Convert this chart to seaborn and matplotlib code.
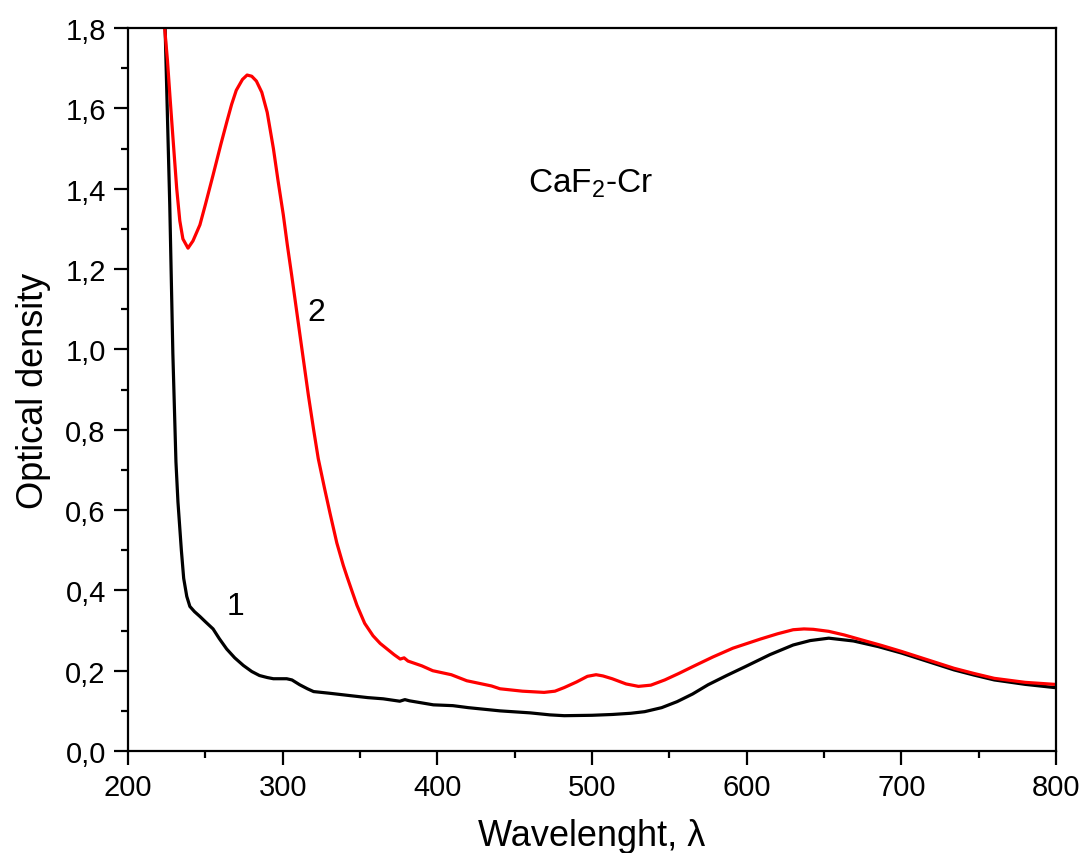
import numpy as np
import pandas as pd
import matplotlib
matplotlib.use("Agg")
import matplotlib.pyplot as plt
import seaborn as sns
from matplotlib.ticker import MultipleLocator, FuncFormatter

# curve 1 (black)
wl_1 = [222, 224, 227, 229, 231, 232.3, 234.5, 236, 238, 240, 243, 246.5, 250, 255, 259,
        263.8, 269, 274.6, 280, 285, 290, 294, 302.6, 306, 311, 316, 320, 330, 343.5, 355,
        365, 375.7, 379, 382, 397.4, 410, 420, 440.5, 460, 472.8, 482, 500, 513, 525, 534,
        545, 555, 565, 575, 587, 599, 615, 630, 641, 653, 669, 685, 700, 717, 734, 747,
        760, 780, 799, 800]
od_1 = [1.90, 1.80, 1.36, 0.99, 0.72, 0.62, 0.50, 0.43, 0.385, 0.36, 0.347, 0.335, 0.322, 0.304, 0.28,
        0.254, 0.232, 0.213, 0.198, 0.188, 0.183, 0.18, 0.18, 0.177, 0.165, 0.155, 0.148, 0.144, 0.138, 0.133,
        0.13, 0.124, 0.128, 0.125, 0.115, 0.113, 0.108, 0.1, 0.095, 0.09, 0.088, 0.089, 0.091, 0.094, 0.098,
        0.108, 0.123, 0.142, 0.165, 0.188, 0.21, 0.24, 0.264, 0.275, 0.281, 0.274, 0.26, 0.244, 0.223, 0.202, 0.189,
        0.177, 0.166, 0.158, 0.158]

# curve 2 (red)
wl_2 = [222, 223.7, 225.5, 227.2, 229, 231.5, 233.5, 235.5, 238.8, 242, 246.5, 250, 255, 260, 264, 267, 270,
        274, 277, 280, 283, 286.5, 290, 294, 297, 300.4, 303, 305.8, 311.2, 316.6, 320, 323, 327, 330.6, 335, 339.2,
        341.6, 345, 348, 353, 358.4, 363, 367.5, 372, 376, 378.5, 381, 390, 397, 409, 419, 435, 440.5, 455, 469, 476,
        482, 490, 497, 502.6, 507, 513, 522, 530, 538, 547, 556, 565, 578, 591, 609,
        620, 630, 637, 643, 653, 663, 674, 687, 700, 717, 734, 747, 760, 780, 799, 800]
od_2 = [1.95, 1.80, 1.72, 1.626, 1.53, 1.40, 1.32, 1.275, 1.252, 1.27, 1.31, 1.36, 1.434, 1.51, 1.568, 1.61, 1.645,
        1.672, 1.683, 1.68, 1.668, 1.64, 1.59, 1.50, 1.42, 1.335, 1.26, 1.185, 1.035, 0.886, 0.80, 0.728, 0.655, 0.592, 0.518, 0.462,
        0.434, 0.396, 0.363, 0.318, 0.287, 0.268, 0.254, 0.24, 0.229, 0.232, 0.224, 0.212, 0.2, 0.19, 0.175, 0.162, 0.155, 0.149, 0.146, 0.149,
        0.158, 0.172, 0.186, 0.19, 0.187, 0.18, 0.167, 0.161, 0.164, 0.177, 0.193, 0.21, 0.234, 0.256, 0.279,
        0.292, 0.302, 0.304, 0.303, 0.298, 0.289, 0.277, 0.263, 0.248, 0.227, 0.206, 0.193, 0.181, 0.171, 0.166, 0.166]

df = pd.concat([
    pd.DataFrame({"wl": wl_1, "od": od_1, "curve": "1"}),
    pd.DataFrame({"wl": wl_2, "od": od_2, "curve": "2"}),
])

sns.set_style("ticks")
plt.rcParams['font.family'] = ['Liberation Sans', 'DejaVu Sans']
plt.rcParams['mathtext.default'] = 'regular'
plt.rcParams['text.color'] = 'black'
plt.rcParams['axes.labelcolor'] = 'black'
plt.rcParams['xtick.color'] = 'black'
plt.rcParams['ytick.color'] = 'black'

fig = plt.figure(figsize=(10.81, 8.54), dpi=100)
ax = fig.add_axes([0.1184, 0.1194, 0.977 - 0.1184, 0.966 - 0.1194])
sns.lineplot(data=df, x="wl", y="od", hue="curve", palette={"1": "black", "2": "red"},
             estimator=None, linewidth=2.3, legend=False, ax=ax)

ax.set_xlim(200, 800)
ax.set_ylim(0, 1.8)
ax.xaxis.set_major_locator(MultipleLocator(100))
ax.xaxis.set_minor_locator(MultipleLocator(50))
ax.yaxis.set_major_locator(MultipleLocator(0.2))
ax.yaxis.set_minor_locator(MultipleLocator(0.1))
ax.yaxis.set_major_formatter(FuncFormatter(lambda v, p: f"{v:.1f}".replace(".", ",")))
ax.tick_params(which="major", direction="out", length=10, width=1.6, labelsize=21, pad=6)
ax.tick_params(which="minor", direction="out", length=5, width=1.6)
for s in ax.spines.values():
    s.set_linewidth(1.6)
    s.set_color("black")

ax.set_xlabel("Wavelenght, λ", fontsize=26, labelpad=12)
ax.set_ylabel("Optical density", fontsize=26, labelpad=10)

ax.text(269.8, 0.362, "1", fontsize=23, ha="center", va="center")
ax.text(322, 1.094, "2", fontsize=23, ha="center", va="center")
ax.text(499, 1.414, "CaF$_2$-Cr", fontsize=24, ha="center", va="center")

fig.savefig("out.png", dpi=100)
